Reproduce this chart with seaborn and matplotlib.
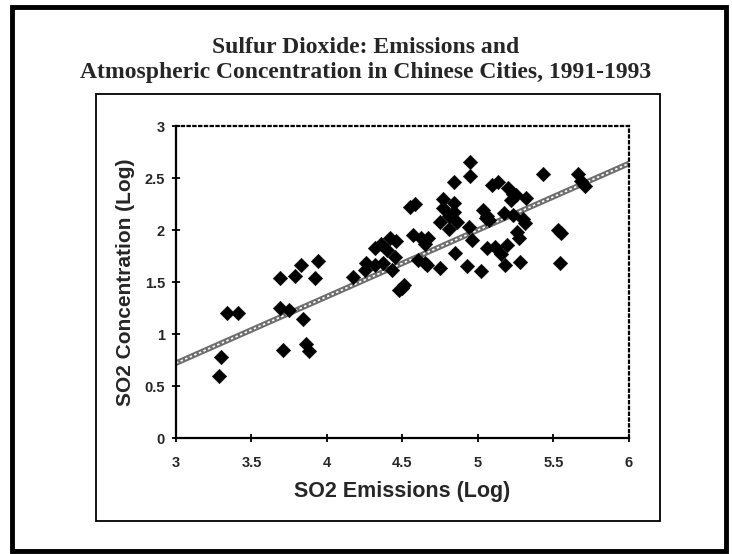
import numpy as np
import pandas as pd
import matplotlib
matplotlib.use("Agg")
import matplotlib.pyplot as plt
from matplotlib.patches import Rectangle
import seaborn as sns

# ---- data ----
emissions_log = [
    3.285, 3.30, 3.34, 3.41, 3.69, 3.69, 3.71, 3.75, 3.79, 3.83, 3.84, 3.86, 3.88, 3.92, 3.94,
    4.17, 4.25, 4.26, 4.32, 4.37, 4.43, 4.45, 4.40, 4.32, 4.36, 4.42, 4.46, 4.48, 4.51, 4.50,
    4.55, 4.58, 4.57, 4.62, 4.67, 4.65, 4.60, 4.65, 4.66,
    4.77, 4.84, 4.77, 4.84, 4.75, 4.81, 4.86, 4.81, 4.84, 4.95, 4.95, 4.94, 4.96, 4.85, 4.75, 4.93,
    5.02, 5.03, 5.06, 5.07, 5.06, 5.11, 5.15, 5.19, 5.18, 5.28, 5.09, 5.13, 5.20, 5.23, 5.25, 5.22,
    5.32, 5.17, 5.23, 5.30, 5.31, 5.26, 5.27, 5.05,
    5.43, 5.53, 5.55, 5.54, 5.66, 5.68, 5.71,
]
concentration_log = [
    0.60, 0.78, 1.20, 1.20, 1.54, 1.25, 0.85, 1.23, 1.56, 1.66, 1.14, 0.90, 0.84, 1.54, 1.70,
    1.55, 1.62, 1.68, 1.66, 1.68, 1.62, 1.74, 1.81, 1.83, 1.87, 1.92, 1.89, 1.42, 1.47, 1.44,
    2.22, 2.25, 1.95, 1.92, 1.92, 1.87, 1.71, 1.68, 1.66,
    2.30, 2.26, 2.21, 2.17, 2.08, 2.13, 2.08, 2.01, 2.46, 2.65, 2.52, 2.03, 1.90, 1.78, 1.63, 1.65,
    1.61, 2.19, 2.13, 2.10, 1.83, 1.84, 1.77, 1.86, 1.66, 1.69, 2.43, 2.46, 2.40, 2.35, 2.34, 2.29,
    2.31, 2.16, 2.14, 2.11, 2.07, 1.98, 1.92, 2.12,
    2.54, 2.00, 1.97, 1.68, 2.54, 2.47, 2.42,
]
# fitted trend line as drawn in the reference (value at each end of the x range)
trend_x = [3.0, 6.0]
trend_y = [0.72, 2.64]

x_ticks = [3, 3.5, 4, 4.5, 5, 5.5, 6]
x_tick_labels = ["3", "3.5", "4", "4.5", "5", "5.5", "6"]
y_ticks = [0, 0.5, 1, 1.5, 2, 2.5, 3]
y_tick_labels = ["0", "0.5", "1", "1.5", "2", "2.5", "3"]
title_text = "Sulfur Dioxide: Emissions and\nAtmospheric Concentration in Chinese Cities, 1991-1993"
x_label = "SO2 Emissions (Log)"
y_label = "SO2 Concentration (Log)"

df = pd.DataFrame({"emissions": emissions_log, "concentration": concentration_log})
trend = pd.DataFrame({"x": trend_x, "y": trend_y})

sns.set_style("white")
plt.rcParams["font.family"] = ["Liberation Sans", "DejaVu Sans"]

fig = plt.figure(figsize=(7.32, 5.54), dpi=100)
W, H = 732, 554
ax = fig.add_axes([176 / W, 1 - 438 / H, (629 - 176) / W, (438 - 126) / H])

# trend line (hatched grey look)
sns.lineplot(data=trend, x="x", y="y", ax=ax, color="#6e6e6e", lw=4.0,
             solid_capstyle="butt", zorder=2)
sns.lineplot(data=trend, x="x", y="y", ax=ax, color="white", lw=1.2,
             ls=(0, (1.5, 1.5)), zorder=2.1)
sns.scatterplot(data=df, x="emissions", y="concentration", ax=ax, marker="D", s=55,
                color="black", edgecolor="black", linewidth=0.3, zorder=3)

ax.set_xlim(3, 6)
ax.set_ylim(0, 3)
ax.set_xticks(x_ticks)
ax.set_xticklabels(x_tick_labels)
ax.set_yticks(y_ticks)
ax.set_yticklabels(y_tick_labels)
ax.tick_params(axis="both", direction="inout", length=6, width=1.3, color="black",
               labelsize=10.5, bottom=True, left=True)
ax.tick_params(axis="x", pad=10)
ax.tick_params(axis="y", pad=5)
for lab in ax.get_xticklabels() + ax.get_yticklabels():
    lab.set_fontweight("bold")
ax.set_xlabel(x_label, fontsize=15.5, fontweight="bold", labelpad=8)
ax.set_ylabel(y_label, fontsize=15, fontweight="bold", labelpad=7)

for side in ["left", "bottom"]:
    ax.spines[side].set_color("black")
    ax.spines[side].set_linewidth(1.6)
for side in ["top", "right"]:
    ax.spines[side].set_color("black")
    ax.spines[side].set_linewidth(1.6)
    ax.spines[side].set_linestyle((0, (1, 1.6)))
ax.grid(False)

# title
fig.text(366 / W, 1 - 60 / H, title_text, ha="center", va="center", fontsize=17,
         fontweight="bold", family=["Liberation Serif", "DejaVu Serif"], linespacing=1.2)

# frames
fig.patches.append(Rectangle((12 / W, 1 - 551 / H), (726 - 12) / W, (551 - 7) / H,
                             transform=fig.transFigure, fill=False, edgecolor="black", lw=3.5))
fig.patches.append(Rectangle((96 / W, 1 - 521 / H), (660 - 96) / W, (521 - 94) / H,
                             transform=fig.transFigure, fill=False, edgecolor="black", lw=1.3))

fig.savefig("out.png", dpi=100)
